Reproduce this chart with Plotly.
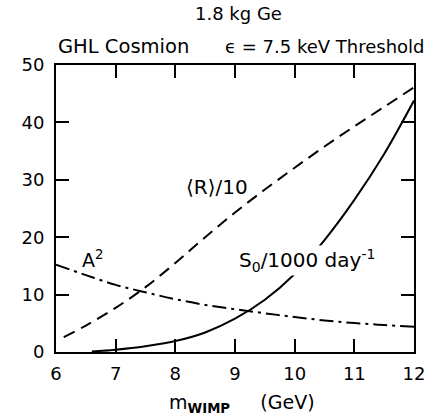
import plotly.graph_objects as go

# Mean rate <R>/10 versus WIMP mass (GeV)
r_mass = [6.13, 6.5, 7.0, 7.5, 8.0, 8.5, 9.0, 9.5, 10.0, 10.5, 11.0, 11.5, 12.0]
r_over_10 = [2.6, 4.6, 7.7, 11.3, 15.5, 20.0, 24.3, 28.3, 32.1, 35.8, 39.3, 42.7, 46.1]

# Modulation amplitude squared
a_mass = [6.0, 6.5, 7.0, 7.5, 8.0, 8.5, 9.0, 9.5, 10.0, 10.5, 11.0, 11.5, 12.0]
a_squared = [15.2, 13.4, 11.7, 10.4, 9.2, 8.2, 7.45, 6.75, 6.1, 5.5, 5.05, 4.7, 4.4]

# S0 / 1000 per day
s_mass = [6.6, 7.0, 7.5, 8.0, 8.5, 9.0, 9.5, 10.0, 10.5, 11.0, 11.5, 12.0]
s0_over_1000 = [0.1, 0.4, 1.0, 1.9, 3.4, 5.8, 9.1, 13.6, 19.5, 26.5, 34.5, 43.8]

x_ticks = [6, 7, 8, 9, 10, 11, 12]
y_ticks = [0, 10, 20, 30, 40, 50]

FONT = "DejaVu Sans"
INK = "black"

fig = go.Figure()
fig.add_trace(go.Scatter(
    x=r_mass, y=r_over_10, mode="lines",
    line=dict(color=INK, width=2, dash="12px,7px", shape="spline", smoothing=1.0),
))
fig.add_trace(go.Scatter(
    x=a_mass, y=a_squared, mode="lines",
    line=dict(color=INK, width=2, dash="14px,5px,3px,5px", shape="spline", smoothing=1.0),
))
fig.add_trace(go.Scatter(
    x=s_mass, y=s0_over_1000, mode="lines",
    line=dict(color=INK, width=2, shape="spline", smoothing=1.0),
))

axis_common = dict(
    showgrid=False, zeroline=False,
    showline=True, linecolor=INK, linewidth=2, mirror="allticks",
    ticks="inside", ticklen=13, tickwidth=1.5, tickcolor=INK,
    tickfont=dict(family=FONT, size=18, color=INK),
)

fig.update_layout(
    width=436, height=418,
    margin=dict(l=56, r=11, t=65, b=66),
    paper_bgcolor="white", plot_bgcolor="white",
    showlegend=False,
    font=dict(family=FONT, size=18, color=INK),
    xaxis=dict(range=[6, 12], tickvals=x_ticks, ticklabelstandoff=4, **axis_common),
    yaxis=dict(range=[0, 50], tickvals=y_ticks, ticklabelstandoff=6, **axis_common),
)

annotations = [
    dict(text="1.8 kg Ge", xref="paper", yref="paper", x=0.51, y=1.18,
         xanchor="center", yanchor="middle", showarrow=False, font=dict(size=18)),
    dict(text="GHL Cosmion", xref="paper", yref="paper", x=0.0, y=1.065,
         xanchor="left", yanchor="middle", showarrow=False, font=dict(size=19.5)),
    dict(text="ϵ = 7.5 keV Threshold", xref="paper", yref="paper", x=1.035, y=1.065,
         xanchor="right", yanchor="middle", showarrow=False, font=dict(size=18)),
    dict(text="m<sub><b>WIMP</b></sub>     (GeV)", xref="paper", yref="paper", x=0.52, y=-0.18,
         xanchor="center", yanchor="middle", showarrow=False, font=dict(size=19)),
    dict(text="⟨R⟩/10", x=8.7, y=28.8, xanchor="center", yanchor="middle",
         showarrow=False, font=dict(size=20)),
    dict(text="A<sup>2</sup>", x=6.62, y=16.2, xanchor="center", yanchor="middle",
         showarrow=False, font=dict(size=19)),
    dict(text="S<sub>0</sub>/1000 day<sup>-1</sup>", x=10.2, y=16.0, xanchor="center",
         yanchor="middle", showarrow=False, font=dict(size=20),
         bgcolor="white", borderpad=0),
]
fig.update_layout(annotations=annotations)

fig.write_html("out.html")
